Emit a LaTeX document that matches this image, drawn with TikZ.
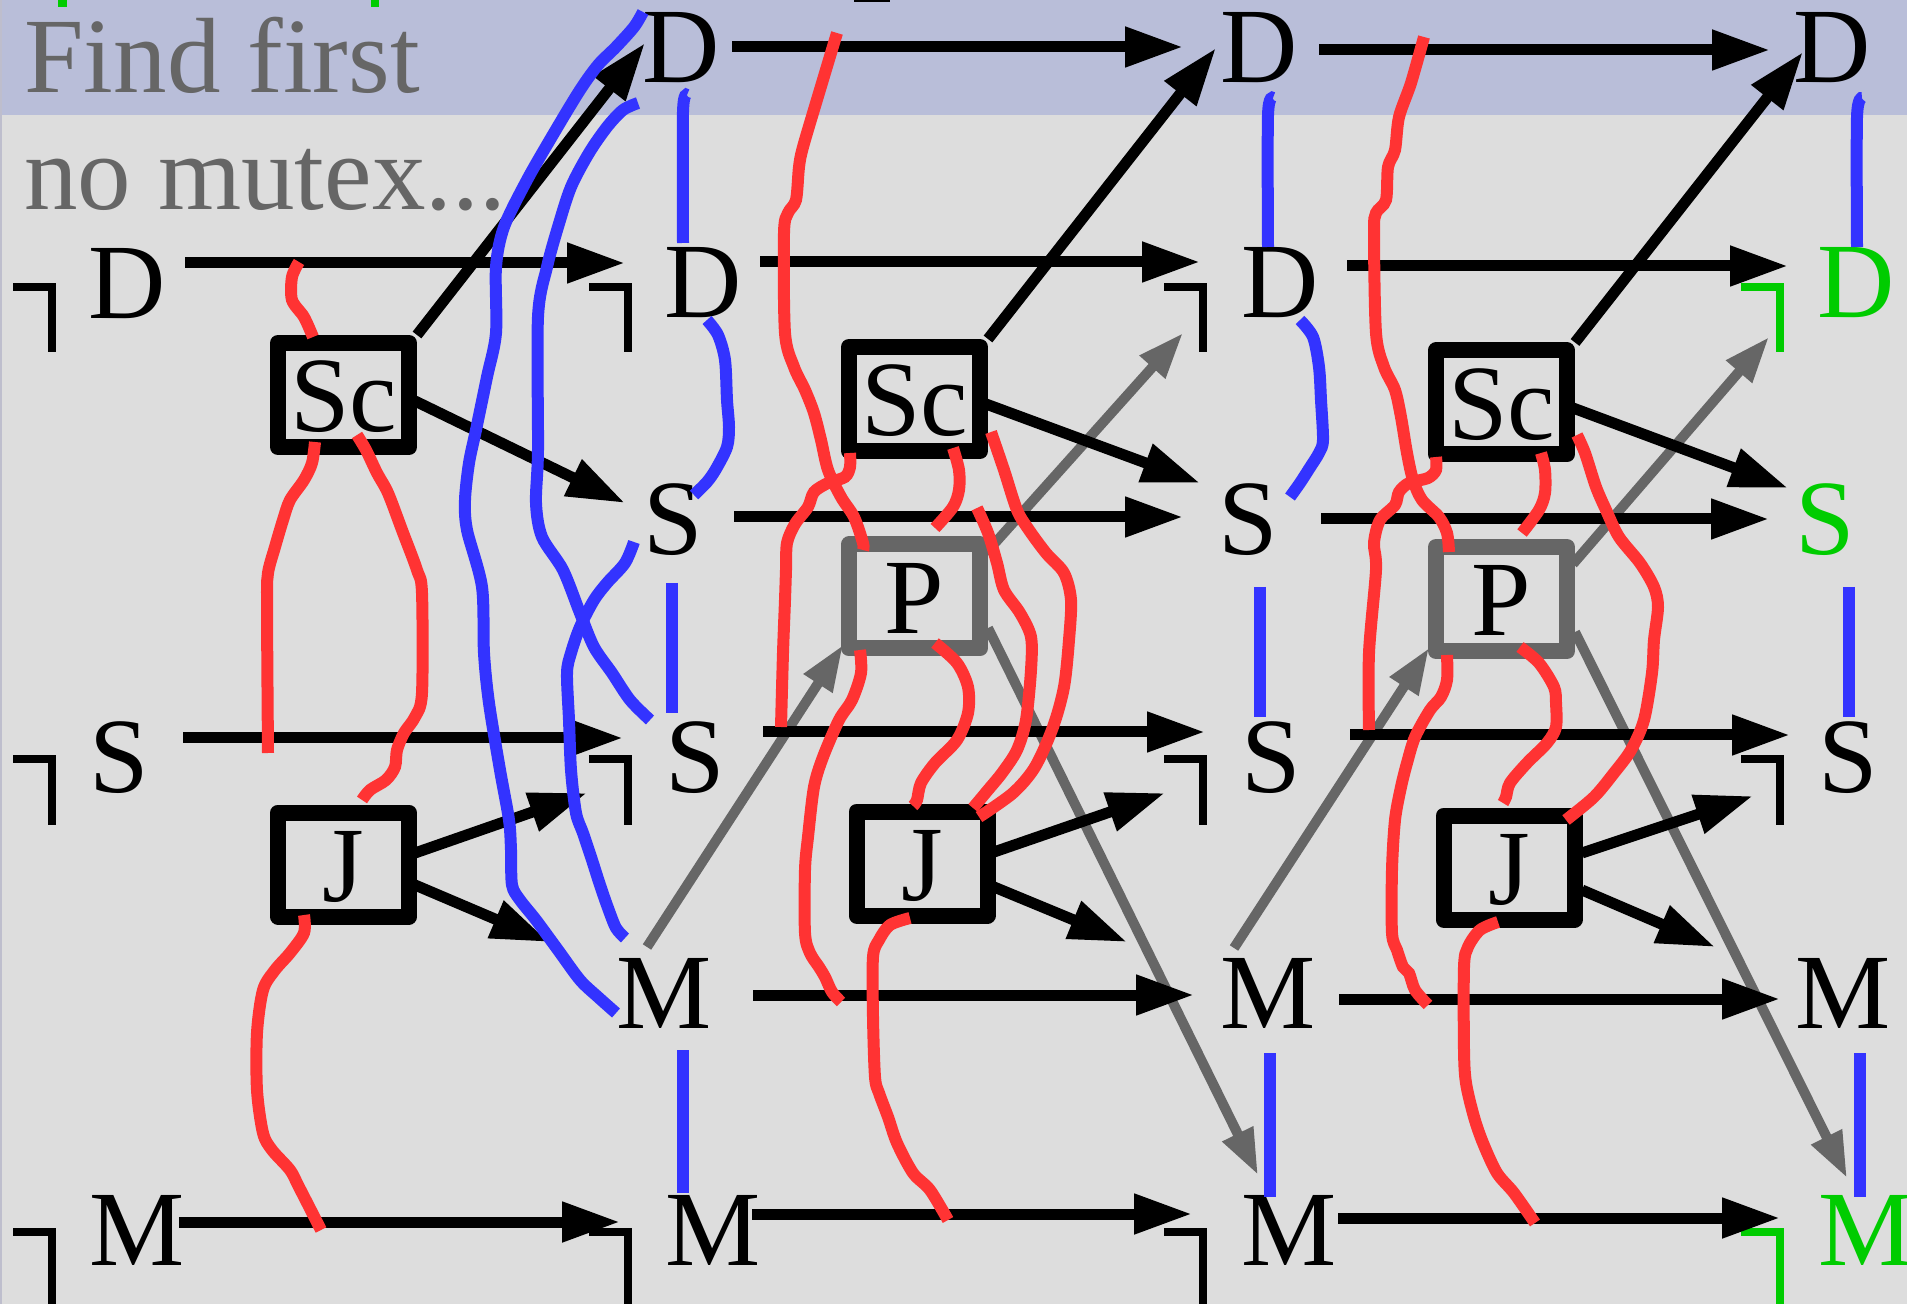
\documentclass[tikz,border=0pt]{standalone}
\usepackage{fontspec}
\setmainfont{Liberation Serif}
\usetikzlibrary{arrows.meta}
\definecolor{band}{RGB}{185,190,217}
\definecolor{bg}{RGB}{221,221,221}
\definecolor{edge}{RGB}{190,190,205}
\definecolor{myred}{RGB}{255,51,51}
\definecolor{myblue}{RGB}{51,51,255}
\definecolor{mygreen}{RGB}{0,204,0}
\definecolor{mygray}{RGB}{102,102,102}
\newcommand\bigfont{\fontsize{53.5}{60}\selectfont}
\begin{document}
\begin{tikzpicture}[x=0.5pt,y=-0.5pt,
  lt/.style={font=\bigfont, inner sep=0pt, anchor=base},
  gl/.style={lt, text=mygreen},
  box/.style={draw, line width=8pt, line join=round, minimum width=65.5pt, minimum height=52pt, inner sep=0pt, text height=37pt, text depth=0pt, font=\bigfont},
  pbox/.style={box, draw=mygray},
  arr/.style={line width=5.5pt, -{Triangle[length=29pt,width=19pt]}},
  garr/.style={draw=mygray, line width=5pt, -{Triangle[length=23pt,width=16pt]}},
  negm/.style={line width=4pt},
  bl/.style={draw=myblue, line width=6pt},
  rd/.style={draw=myred, line width=6pt},
  sm/.style={smooth, tension=0.5}]
\useasboundingbox (0,0) rectangle (1907,1304);
\clip (0,0) rectangle (1907,1304);
\fill[bg] (0,0) rectangle (1907,1304);
\fill[band] (0,0) rectangle (1907,115);
\draw[edge, line width=1pt] (1,0) -- (1,1304);
% cut-off marks at the top
\fill[mygreen] (58,0) rectangle (67,7);
\fill[mygreen] (371,0) rectangle (379,7);
\fill (854,0) rectangle (890,2);

% titles
\node[font=\bigfont, text=mygray, anchor=base west, inner sep=0pt] (title1) at (24,93) {Find first};
\node[font=\bigfont, text=mygray, anchor=base west, inner sep=0pt] (title2) at (24,210) {no mutex...};

% letters
\node[lt] (T1) at (681.5,83) {D};
\node[lt] (T2) at (1259,83) {D};
\node[lt] (T3) at (1832.5,83) {D};
\node[lt] (D0) at (127,319) {D};
\node[lt] (D1) at (703.5,318) {D};
\node[lt] (D2) at (1280,318) {D};
\node[gl] (D3) at (1856.5,318) {D};
\node[lt] (SU1) at (673,555) {S};
\node[lt] (SU2) at (1248.5,555) {S};
\node[gl] (SU3) at (1825,555) {S};
\node[lt] (S0) at (119.5,792) {S};
\node[lt] (S1) at (695.5,792) {S};
\node[lt] (S2) at (1271.5,792) {S};
\node[lt] (S3) at (1848,792) {S};
\node[lt] (MU1) at (664.5,1028) {M};
\node[lt] (MU2) at (1268,1028) {M};
\node[lt] (MU3) at (1843,1028) {M};
\node[lt] (M0) at (137.5,1265) {M};
\node[lt] (M1) at (713.5,1265) {M};
\node[lt] (M2) at (1289.5,1265) {M};
\node[gl] (M3) at (1866,1265) {M};

% corner marks
\foreach \c/\yy/\yb/\col in {52/287/352/black,628/287/352/black,1203/287/352/black,1780/287/352/mygreen,
  52/759/825/black,628/759/825/black,1203/759/825/black,1780/759/825/black,
  52/1232/1310/black,628/1232/1310/black,1203/1232/1310/black,1780/1232/1310/mygreen}
  \draw[negm, draw=\col] (\c-39,\yy) -- (\c,\yy) -- (\c,\yb);

% boxes
\node[box] (Sc0) at (343.5,395) {Sc};
\node[box] (Sc1) at (914.5,399) {Sc};
\node[box] (Sc2) at (1501.5,402.5) {Sc};
\node[pbox] (P1) at (914.5,596.5) {P};
\node[pbox] (P2) at (1501.5,599) {P};
\node[box] (J0) at (343.5,864.5) {J};
\node[box] (J1) at (922,863.5) {J};
\node[box] (J2) at (1509,867.5) {J};

% arrow end coordinates
\coordinate (hT1a) at (732,47);   \coordinate (hT1b) at (1183,47);
\coordinate (hT2a) at (1319,50);  \coordinate (hT2b) at (1770,50);
\coordinate (hD0a) at (185,263);  \coordinate (hD0b) at (625,263);
\coordinate (hD1a) at (760,262);  \coordinate (hD1b) at (1200,262);
\coordinate (hD2a) at (1347,266); \coordinate (hD2b) at (1788,266);
\coordinate (hU1a) at (734,517);  \coordinate (hU1b) at (1183,517);
\coordinate (hU2a) at (1321,519); \coordinate (hU2b) at (1769,519);
\coordinate (hS0a) at (183,738);  \coordinate (hS0b) at (623,738);
\coordinate (hS1a) at (763,732);  \coordinate (hS1b) at (1205,732);
\coordinate (hS2a) at (1350,735); \coordinate (hS2b) at (1790,735);
\coordinate (hN1a) at (753,995);  \coordinate (hN1b) at (1194,995);
\coordinate (hN2a) at (1339,999); \coordinate (hN2b) at (1780,999);
\coordinate (hM0a) at (179,1222); \coordinate (hM0b) at (620,1222);
\coordinate (hM1a) at (752,1214); \coordinate (hM1b) at (1192,1214);
\coordinate (hM2a) at (1338,1218);\coordinate (hM2b) at (1780,1218);

% gray arrows
\coordinate (g1a) at (647,947);  \coordinate (g1b) at (843,645);
\coordinate (g2a) at (986,553);  \coordinate (g2b) at (1183,333);
\coordinate (g3a) at (988,628);  \coordinate (g3b) at (1258,1175);
\coordinate (g4a) at (1234,948); \coordinate (g4b) at (1429,648);
\coordinate (g5a) at (1573,564); \coordinate (g5b) at (1769,337);
\coordinate (g6a) at (1575,632); \coordinate (g6b) at (1847,1178);
\foreach \i in {1,...,6} \draw[garr] (g\i a) -- (g\i b);

% horizontal arrows
\foreach \n in {T1,T2,D0,D1,D2,U1,U2,S0,S1,S2,N1,N2,M0,M1,M2}
  \draw[arr] (h\n a) -- (h\n b);

% diagonal black arrows
\coordinate (b1b) at (645,43);   \coordinate (b2b) at (1216,48);  \coordinate (b3b) at (1803,52);
\draw[arr] (Sc0.north east) -- (b1b);
\draw[arr] (Sc1.north east) -- (b2b);
\draw[arr] (Sc2.north east) -- (b3b);
\coordinate (b4a) at (415,401);  \coordinate (b4b) at (625,503);
\coordinate (b5a) at (986,404);  \coordinate (b5b) at (1200,483);
\coordinate (b6a) at (1573,408); \coordinate (b6b) at (1788,488);
\coordinate (b7a) at (415,853);  \coordinate (b7b) at (587,793);
\coordinate (b8a) at (415,885);  \coordinate (b8b) at (549,942);
\coordinate (b9a) at (994,852);  \coordinate (b9b) at (1165,793);
\coordinate (b10a) at (994,887); \coordinate (b10b) at (1127,942);
\coordinate (b11a) at (1582,853);\coordinate (b11b) at (1753,796);
\coordinate (b12a) at (1582,890);\coordinate (b12b) at (1715,947);
\foreach \i in {4,...,12} \draw[arr] (b\i a) -- (b\i b);

% blue lines
\draw[bl] plot[sm] coordinates {(687,95) (683,112) (683,243)};
\draw[bl] plot[sm] coordinates {(1273,98) (1268,115) (1268,247)};
\draw[bl] plot[sm] coordinates {(1862,98) (1857,117) (1857,247)};
\draw[bl] (672,583) -- (672,713);
\draw[bl] (1260,587) -- (1260,717);
\draw[bl] (1849,587) -- (1849,717);
\draw[bl] (683,1050) -- (683,1193);
\draw[bl] (1270,1053) -- (1270,1197);
\draw[bl] (1860,1053) -- (1860,1197);
\draw[bl] plot[sm] coordinates {(707,320) (718,335) (725,360) (727,400) (729,427) (727,447) (716,469) (707,482) (694,495)};
\draw[bl] plot[sm] coordinates {(1300,320) (1313,337) (1319,367) (1321,400) (1323,440) (1319,453) (1309,469) (1300,483) (1290,497)};
\draw[bl] plot[sm] coordinates {(643,12) (634,27) (616,47) (598,65) (580,90) (554,133) (527,180) (504,227) (496,267) (496,333) (487,377) (476,430) (469,463) (465,500) (467,530) (482,587) (484,653) (489,703) (500,770) (509,820) (511,850) (512,885) (520,900) (536,920) (558,950) (580,980) (598,997) (616,1013)};
\draw[bl] plot[sm] coordinates {(638,103) (623,110) (607,127) (589,153) (571,187) (558,227) (547,267) (538,317) (538,450) (536,503) (542,537) (563,570) (580,613) (594,647) (612,673) (630,700) (650,720)};
\draw[bl] plot[sm] coordinates {(634,542) (625,563) (607,583) (594,600) (580,627) (571,653) (567,673) (569,720) (571,770) (576,813) (583,833) (592,860) (600,885) (608,908) (616,928) (625,938)};

% red lines, column 0
\draw[rd] plot[sm] coordinates {(299,262) (292,277) (292,300) (304,317) (313,337)};
\draw[rd] plot[sm] coordinates {(315,442) (312,463) (304,480) (290,500) (283,520) (275,547) (268,573) (267,603) (268,753)};
\draw[rd] plot[sm] coordinates {(357,435) (366,450) (377,473) (388,493) (402,530) (417,570) (422,593) (422,693) (415,717) (404,733) (397,750) (395,767) (386,780) (370,790) (362,800)};
\draw[rd] plot[sm] coordinates {(304,915) (304,933) (290,953) (275,970) (263,990) (257,1033) (257,1090) (263,1133) (272,1150) (290,1170) (299,1187) (321,1230)};
% red lines, column 1
\draw[rd] plot[sm] coordinates {(837,33) (819,93) (803,147) (799,167) (796,200) (788,213) (784,233) (785,333) (794,367) (805,390) (814,413) (821,440) (828,470) (841,497) (854,517) (863,543) (863,550)};
\draw[rd] plot[sm] coordinates {(850,453) (850,467) (845,477) (828,483) (814,492) (808,507) (795,524) (787,543) (786,570) (785,600) (783,653) (781,727)};
\draw[rd] plot[sm] coordinates {(953,448) (959,470) (959,490) (953,507) (935,528)};
\draw[rd] plot[sm] coordinates {(991,432) (1004,470) (1017,510) (1029,530) (1046,553) (1064,573) (1071,600) (1069,640) (1064,687) (1053,727) (1035,767) (1013,793) (979,817)};
\draw[rd] plot[sm] coordinates {(977,508) (988,533) (997,563) (1004,590) (1020,613) (1031,637) (1031,670) (1026,720) (1017,750) (1002,773) (988,790) (973,808)};
\draw[rd] plot[sm] coordinates {(935,643) (957,663) (968,687) (968,713) (957,740) (935,763) (921,783) (917,800) (913,806)};
\draw[rd] plot[sm] coordinates {(860,650) (861,673) (852,700) (839,720) (823,757) (814,787) (808,837) (805,870) (805,933) (810,953) (819,967) (825,977) (832,992) (841,1002)};
\draw[rd] plot[sm] coordinates {(910,918) (890,925) (879,940) (873,957) (873,1017) (875,1077) (879,1093) (888,1117) (897,1143) (913,1173) (930,1190) (948,1220)};
% red lines, column 2
\draw[rd] plot[sm] coordinates {(1424,37) (1411,83) (1399,117) (1395,150) (1388,167) (1386,200) (1376,213) (1374,233) (1376,333) (1384,367) (1395,390) (1401,417) (1407,453) (1413,480) (1422,500) (1439,517) (1447,533) (1449,552)};
\draw[rd] plot[sm] coordinates {(1436,457) (1436,470) (1428,478) (1409,483) (1399,492) (1395,505) (1380,520) (1374,543) (1376,570) (1369,653) (1369,730)};
\draw[rd] plot[sm] coordinates {(1541,453) (1545,470) (1545,493) (1539,510) (1522,533)};
\draw[rd] plot[sm] coordinates {(1577,435) (1585,453) (1596,487) (1606,510) (1619,537) (1640,563) (1654,587) (1658,607) (1654,640) (1652,673) (1644,720) (1631,750) (1614,773) (1594,797) (1566,820)};
\draw[rd] plot[sm] coordinates {(1520,647) (1539,663) (1554,687) (1556,703) (1556,727) (1547,743) (1527,763) (1510,783) (1506,797) (1503,803)};
\draw[rd] plot[sm] coordinates {(1447,655) (1447,680) (1441,697) (1430,710) (1415,737) (1407,763) (1401,787) (1395,820) (1392,870) (1392,933) (1397,950) (1403,967) (1409,973) (1415,990) (1428,1005)};
\draw[rd] plot[sm] coordinates {(1498,922) (1480,930) (1468,947) (1464,967) (1464,1050) (1466,1083) (1474,1117) (1483,1143) (1497,1173) (1514,1193) (1535,1223)};
\end{tikzpicture}
\end{document}
